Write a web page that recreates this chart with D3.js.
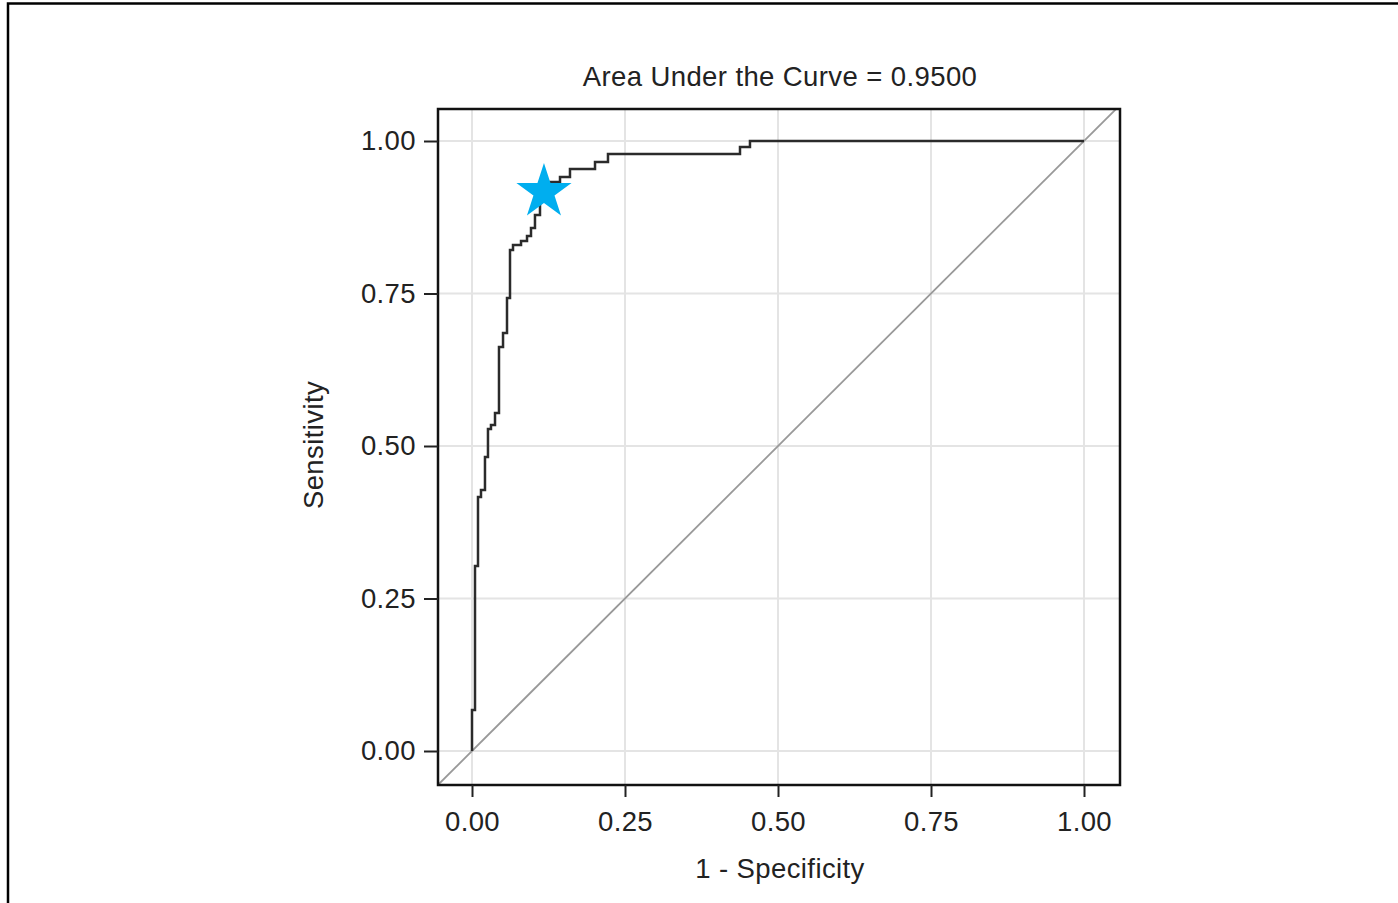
<!DOCTYPE html>
<html>
<head>
<meta charset="utf-8">
<script src="https://cdn.jsdelivr.net/npm/d3@7"></script>
<style>
  body { margin: 0; background: #fff; }
  text { font-family: 'Liberation Sans', Arial, sans-serif; fill: #222; letter-spacing: 0.4px; }
</style>
</head>
<body>
<div id="roc-plot"></div>
<script>
// ROC points (1 - specificity, sensitivity)
const fpr = [0, 0.0049, 0.0098, 0.0147, 0.0212, 0.0261, 0.031, 0.0376, 0.0441,
  0.0507, 0.0572, 0.0621, 0.067, 0.0801, 0.0899, 0.0964, 0.1029, 0.1111,
  0.1193, 0.1275, 0.1438, 0.1601, 0.201, 0.2222, 0.4379, 0.4542, 1.0];
const tpr = [0, 0.0672, 0.3033, 0.4164, 0.4279, 0.482, 0.5279, 0.5344, 0.5541,
  0.6623, 0.6852, 0.7426, 0.8213, 0.8295, 0.8361, 0.8443, 0.8574, 0.8787,
  0.9033, 0.9197, 0.9328, 0.941, 0.9541, 0.9656, 0.9787, 0.9902, 1.0];
const cutoff = [0.1176, 0.9164];
const tickValues = [0, 0.25, 0.5, 0.75, 1];
const tickLabels = ['0.00', '0.25', '0.50', '0.75', '1.00'];
const auc = 0.95;

const width = 1398;
const height = 903;
const frame = { left: 438, right: 1120, top: 109, bottom: 785 };
const fontSize = '27.5px';

const svg = d3
  .select('#roc-plot')
  .append('svg')
  .attr('width', width)
  .attr('height', height);

// outer border
svg
  .append('rect')
  .attr('x', 8)
  .attr('y', 3.5)
  .attr('width', width)
  .attr('height', height)
  .attr('fill', 'none')
  .attr('stroke', '#000')
  .attr('stroke-width', 2.5);

const xScale = d3.scaleLinear().domain([0, 1]).range([472, 1084]);
const yScale = d3.scaleLinear().domain([0, 1]).range([751, 141]);

svg
  .append('clipPath')
  .attr('id', 'clip')
  .append('rect')
  .attr('x', frame.left)
  .attr('y', frame.top)
  .attr('width', frame.right - frame.left)
  .attr('height', frame.bottom - frame.top);

// grid
const grid = svg.append('g');
grid
  .selectAll('.vgrid')
  .data(tickValues)
  .enter()
  .append('line')
  .attr('x1', (d) => xScale(d))
  .attr('x2', (d) => xScale(d))
  .attr('y1', frame.top)
  .attr('y2', frame.bottom)
  .attr('stroke', '#e4e4e4')
  .attr('stroke-width', 2);
grid
  .selectAll('.hgrid')
  .data(tickValues)
  .enter()
  .append('line')
  .attr('y1', (d) => yScale(d))
  .attr('y2', (d) => yScale(d))
  .attr('x1', frame.left)
  .attr('x2', frame.right)
  .attr('stroke', '#e4e4e4')
  .attr('stroke-width', 2);

// reference diagonal, clipped to the frame
const lo = xScale.invert(frame.left);
const hi = xScale.invert(frame.right);
svg
  .append('line')
  .attr('clip-path', 'url(#clip)')
  .attr('x1', xScale(lo))
  .attr('y1', yScale(lo))
  .attr('x2', xScale(hi))
  .attr('y2', yScale(hi))
  .attr('stroke', '#999')
  .attr('stroke-width', 1.8);

// ROC step curve
const points = fpr.map((d, i) => [d, tpr[i]]);
const line = d3
  .line()
  .x((d) => xScale(d[0]))
  .y((d) => yScale(d[1]))
  .curve(d3.curveStepBefore);

svg
  .append('path')
  .datum(points)
  .attr('d', line)
  .attr('fill', 'none')
  .attr('stroke', '#2b2b2b')
  .attr('stroke-width', 2.5);

// frame
svg
  .append('rect')
  .attr('x', frame.left)
  .attr('y', frame.top)
  .attr('width', frame.right - frame.left)
  .attr('height', frame.bottom - frame.top)
  .attr('fill', 'none')
  .attr('stroke', '#111')
  .attr('stroke-width', 2.5);

// axes
const xAxis = d3
  .axisBottom(xScale)
  .tickValues(tickValues)
  .tickFormat((d, i) => tickLabels[i])
  .tickSize(12)
  .tickPadding(14);
const yAxis = d3
  .axisLeft(yScale)
  .tickValues(tickValues)
  .tickFormat((d, i) => tickLabels[i])
  .tickSize(14)
  .tickPadding(8);

const gx = svg
  .append('g')
  .attr('transform', `translate(0, ${frame.bottom})`)
  .call(xAxis);
const gy = svg
  .append('g')
  .attr('transform', `translate(${frame.left}, 0)`)
  .call(yAxis);

[gx, gy].forEach((g) => {
  g.select('.domain').remove();
  g.selectAll('line').attr('stroke', '#222').attr('stroke-width', 2);
  g.selectAll('text')
    .style('font-family', "'Liberation Sans', Arial, sans-serif")
    .style('font-size', fontSize)
    .attr('fill', '#222');
});

// star at chosen cutoff
svg
  .append('path')
  .attr('d', d3.symbol(d3.symbolStar, 944)())
  .attr('transform', `translate(${xScale(cutoff[0])}, ${yScale(cutoff[1])})`)
  .attr('fill', '#00aeef');

// titles
svg
  .append('text')
  .attr('x', 780)
  .attr('y', 86)
  .attr('text-anchor', 'middle')
  .style('font-size', fontSize)
  .text(`Area Under the Curve = ${d3.format('.4f')(auc)}`);

svg
  .append('text')
  .attr('x', 780)
  .attr('y', 878)
  .attr('text-anchor', 'middle')
  .style('font-size', fontSize)
  .text('1 - Specificity');

svg
  .append('text')
  .attr('transform', 'translate(323, 445) rotate(-90)')
  .attr('text-anchor', 'middle')
  .style('font-size', fontSize)
  .text('Sensitivity');
</script>
</body>
</html>
